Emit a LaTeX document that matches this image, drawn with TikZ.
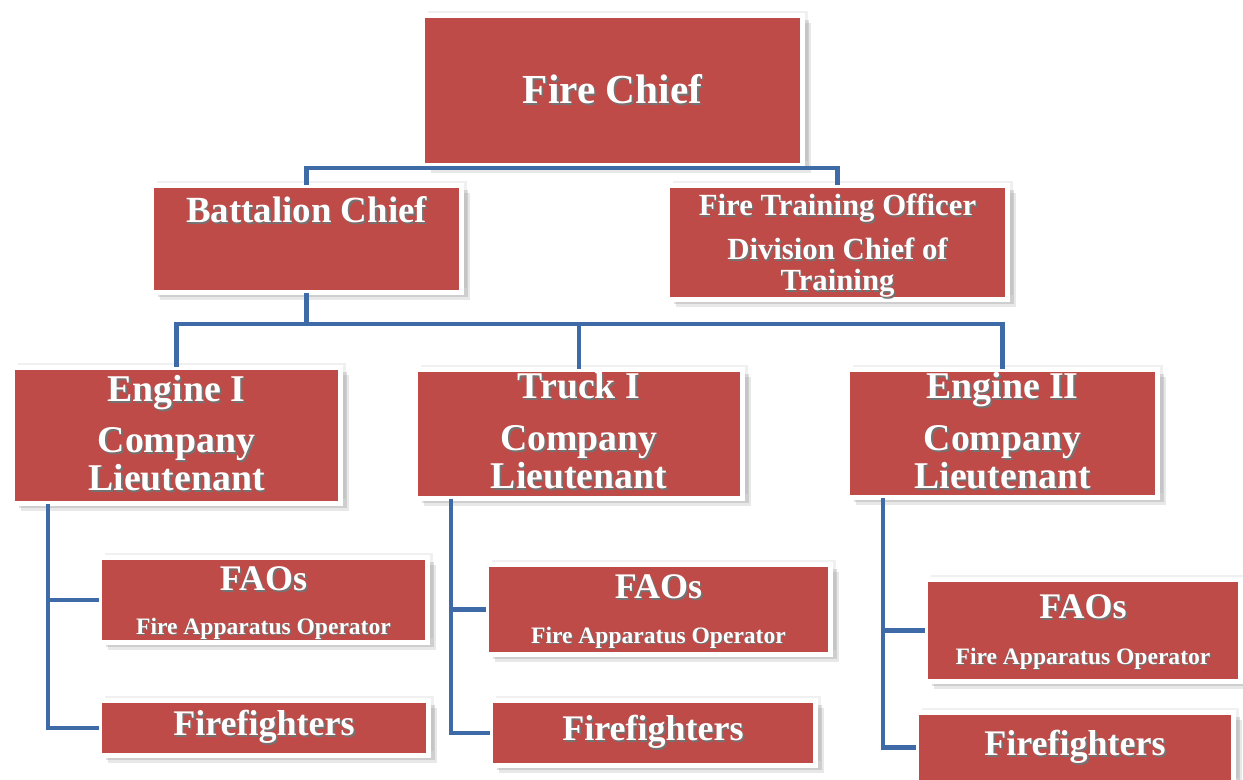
\documentclass[tikz,border=0pt]{standalone}
\usepackage{fontspec}
\setmainfont{Liberation Serif}
\usetikzlibrary{shadows}
\definecolor{boxred}{RGB}{190,75,72}
\definecolor{linkblue}{RGB}{62,106,168}
\newcommand{\emb}[1]{\leavevmode\rlap{\kern0.05em\raisebox{-0.05em}{\color{black!55}#1}}#1}

\begin{document}
\begin{tikzpicture}[
  post/.style={draw=black!18, line width=0.4pt, double=white, double distance=2.3pt, fill=boxred,
    drop shadow={shadow xshift=3pt, shadow yshift=2.5pt, opacity=0.12},
    drop shadow={shadow xshift=5pt, shadow yshift=-4pt, opacity=0.18},
    drop shadow={shadow xshift=3.5pt, shadow yshift=-2.5pt, opacity=0.25}},
  title/.style={text=white, align=center, inner sep=0pt,
    font=\fontsize{#1}{#1}\selectfont\bfseries},
  link/.style={draw=linkblue, line width=2.3pt}
]
\useasboundingbox (0,0) rectangle (24.86,-15.6);

% top and second level
\node[post, minimum width=7.6cm, minimum height=3cm] (chief) at (12.25,-1.81) {};
\node[post, minimum width=6.2cm, minimum height=2.14cm] (batt) at (6.13,-4.78) {};
\node[post, minimum width=6.8cm, minimum height=2.28cm] (train) at (16.75,-4.85) {};

% companies
\node[post, minimum width=6.56cm, minimum height=2.72cm] (eng1) at (3.53,-8.71) {};
\node[post, minimum width=6.54cm, minimum height=2.58cm] (truck) at (11.58,-8.68) {};
\node[post, minimum width=6.2cm, minimum height=2.56cm] (eng2) at (20.05,-8.67) {};

% crews
\node[post, minimum width=6.56cm, minimum height=1.7cm] (fao1) at (5.27,-12.0) {};
\node[post, minimum width=6.58cm, minimum height=1.1cm] (ff1) at (5.28,-14.56) {};
\node[post, minimum width=6.88cm, minimum height=1.8cm] (fao2) at (13.17,-12.19) {};
\node[post, minimum width=6.5cm, minimum height=1.3cm] (ff2) at (13.06,-14.66) {};
\node[post, minimum width=6.3cm, minimum height=2.04cm] (fao3) at (21.66,-12.61) {};
\node[post, minimum width=6.34cm, minimum height=1.4cm] (ff3) at (21.5,-14.95) {};

% labels
\node[title=23.5] (chief-t) at (chief.center) {\emb{Fire Chief}};
\node[title=21] (batt-t) at ([yshift=0.57cm]batt.center) {\emb{Battalion Chief}};
\node[title=17.5] (train-t) at ([yshift=-0.08cm]train.center)
  {\emb{Fire Training Officer}\\[7.5pt]\emb{Division Chief of}\\\emb{Training}};
\node[title=21.5] (eng1-t) at ([yshift=0.03cm]eng1.center)
  {\emb{Engine I}\\[8pt]\emb{Company}\\\emb{Lieutenant}};
\node[title=21.5] (truck-t) at ([yshift=0.05cm]truck.center)
  {\emb{Truck I}\\[8pt]\emb{Company}\\\emb{Lieutenant}};
\node[title=21.5] (eng2-t) at ([yshift=0.04cm]eng2.center)
  {\emb{Engine II}\\[8pt]\emb{Company}\\\emb{Lieutenant}};
\foreach \n/\up in {fao1/0.4, fao2/0.44, fao3/0.46} {
  \node[title=20.5] (\n-t) at ([yshift=\up cm]\n.center) {\emb{FAOs}};
  \node[title=13.4] (\n-s) at ([yshift=-0.58cm]\n.center) {\emb{Fire Apparatus Operator}};
}
\foreach \n in {ff1,ff2,ff3}
  \node[title=20.5] (\n-t) at (\n.center) {\emb{Firefighters}};

% connectors
\draw[link] (batt.north) |- ([yshift=-1pt]chief.south) -| (train.north);
\coordinate (bar) at ([yshift=-0.62cm]batt.south);
\draw[link] (batt.south) -- (bar);
\draw[link] (eng1.north) |- (bar) -| (eng2.north);
\draw[link] (truck.north) -- (truck.north |- bar);
\foreach \co/\fa/\ff in {eng1/fao1/ff1, truck/fao2/ff2, eng2/fao3/ff3} {
  \draw[link] ([xshift=0.71cm]\co.south west) |- (\ff.west);
  \draw[link] ([xshift=0.71cm]\co.south west) |- (\fa.west);
}
\end{tikzpicture}
\end{document}
